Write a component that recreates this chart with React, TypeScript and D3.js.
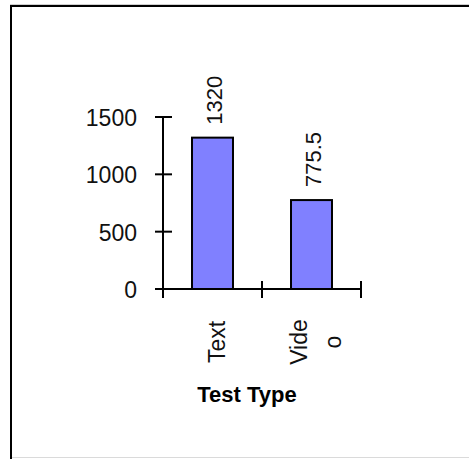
import React from "react";
import * as d3 from "d3";

const categories: string[][] = [["Text"], ["Vide", "o"]];
const values: number[] = [1320, 775.5];
const valueLabels: string[] = ["1320", "775.5"];
const yTicks: number[] = [0, 500, 1000, 1500];
const xTitle = "Test Type";

const W = 469;
const H = 459;
const FONT = "'Liberation Sans', Arial, sans-serif";

export default function App() {
  const keys = categories.map((c) => c.join(""));
  const y = d3.scaleLinear().domain([0, 1500]).range([289, 117]);
  const x = d3
    .scaleBand<string>()
    .domain(keys)
    .range([163, 361])
    .paddingInner(0.586)
    .paddingOuter(0.293);
  const step = x.step();
  const x0 = 163;
  const bounds = d3.range(keys.length + 1).map((i) => x0 + i * step);
  const y0 = y(0);

  return (
    <svg
      width={W}
      height={H}
      style={{ position: "absolute", left: 0, top: 0, display: "block", background: "#fff" }}
    >
      {/* frame */}
      <line x1={10} x2={W} y1={4.5} y2={4.5} stroke="#cfcfcf" strokeWidth={1} />
      <rect x={11} y={6} width={W + 20} height={H + 20} fill="none" stroke="#000" strokeWidth={2} />
      <line x1={12} x2={W} y1={457.5} y2={457.5} stroke="#dadada" strokeWidth={1} />

      {/* bars */}
      {keys.map((k, i) => (
        <rect
          key={k}
          x={x(k)!}
          y={y(values[i])}
          width={x.bandwidth()}
          height={y0 - y(values[i])}
          fill="#8080FF"
          stroke="#000"
          strokeWidth={2}
        />
      ))}

      {/* value labels */}
      {keys.map((k, i) => {
        const cx = x(k)! + x.bandwidth() / 2 + 9;
        const ty = y(values[i]) - 13;
        return (
          <text
            key={"v" + k}
            transform={`translate(${cx},${ty}) rotate(-90)`}
            fontFamily={FONT}
            fontSize={22}
            fill="#111"
          >
            {valueLabels[i]}
          </text>
        );
      })}

      {/* y axis */}
      <line x1={x0} x2={x0} y1={y(1500)} y2={y0 + 9} stroke="#000" strokeWidth={2} />
      {yTicks.map((t) => (
        <g key={"yt" + t}>
          <line x1={x0 - 8} x2={x0 + 9} y1={y(t)} y2={y(t)} stroke="#000" strokeWidth={2} />
          <text
            x={137}
            y={y(t) + 1}
            textAnchor="end"
            dominantBaseline="central"
            fontFamily={FONT}
            fontSize={23}
            fill="#111"
          >
            {t}
          </text>
        </g>
      ))}

      {/* x axis */}
      <line x1={x0 - 8} x2={bounds[bounds.length - 1]} y1={y0} y2={y0} stroke="#000" strokeWidth={2} />
      {bounds.map((b, i) => (
        <line key={"xt" + i} x1={b} x2={b} y1={y0 - 8} y2={y0 + 9} stroke="#000" strokeWidth={2} />
      ))}

      {/* category labels */}
      {categories.map((lines, i) => {
        const c = x(keys[i])! + x.bandwidth() / 2 + 4;
        const L = 34;
        return lines.map((ln, j) => {
          const gc = c + (j - (lines.length - 1) / 2) * L;
          return (
            <text
              key={"c" + i + j}
              transform={`translate(${gc + 8},${342}) rotate(-90)`}
              textAnchor="middle"
              fontFamily={FONT}
              fontSize={23}
              fill="#111"
            >
              {ln}
            </text>
          );
        });
      })}

      {/* x title */}
      <text
        x={247}
        y={402}
        textAnchor="middle"
        fontFamily={FONT}
        fontWeight="bold"
        fontSize={22}
        fill="#000"
      >
        {xTitle}
      </text>
    </svg>
  );
}
